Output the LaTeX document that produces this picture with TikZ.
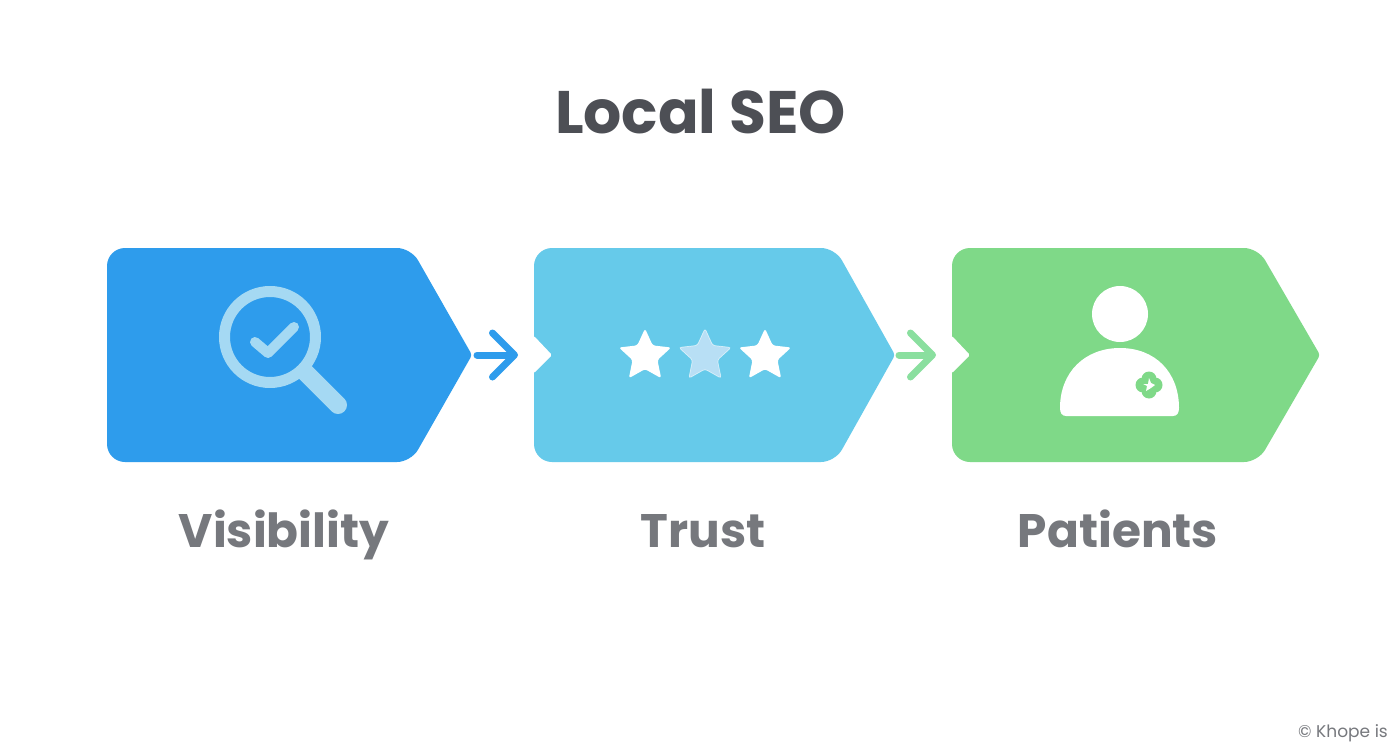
\documentclass[tikz,border=0pt]{standalone}
\usepackage{fontspec}
\setmainfont{Poppins}
\newfontfamily\popbold{Poppins}[UprightFont=* Bold]
\usetikzlibrary{arrows.meta,shapes.geometric}
\definecolor{cblue}{HTML}{2E9CEC}
\definecolor{csky}{HTML}{66CAEA}
\definecolor{cgreen}{HTML}{7FD988}
\definecolor{carrowg}{HTML}{8ADF9F}
\definecolor{cpale}{HTML}{A5D9F3}
\definecolor{cstar}{HTML}{B8DFF5}
\definecolor{ctitle}{HTML}{4D4F55}
\definecolor{clabel}{HTML}{76787D}
\tikzset{
  titletext/.style={inner sep=0pt,text=ctitle,font=\popbold\fontsize{60}{60}\selectfont},
  labeltext/.style={inner sep=0pt,text=clabel,font=\popbold\fontsize{47}{47}\selectfont},
  foot/.style={inner sep=0pt,text=clabel,font=\fontsize{17}{17}\selectfont},
  conn/.style={line width=7pt,line cap=round,-{Straight Barb[round,length=22pt,width=44pt,line width=7pt]}},
  starw/.style={star,star points=5,star point ratio=2.1,minimum size=55pt,inner sep=0pt,fill=white,rounded corners=2.5pt},
}
\begin{document}
\begin{tikzpicture}[x=1pt,y=-1pt]
\useasboundingbox (0,0) rectangle (1392,752);
\fill[white] (0,0) rectangle (1392,752);
% shapes
\fill[cblue,rounded corners=18pt] (107,355) -- (107,248) [rounded corners=14pt] -- (411,248) [rounded corners=3pt] -- (472,355) [rounded corners=14pt] -- (411,462) [rounded corners=18pt] -- (107,462) -- cycle;
\fill[csky,rounded corners=18pt] (534,355) -- (534,248) [rounded corners=14pt] -- (835,248) [rounded corners=3pt] -- (895,355) [rounded corners=14pt] -- (835,462) [rounded corners=18pt] -- (534,462) -- cycle;
\fill[white,rounded corners=1.5pt] (530,336) -- (534,336) -- (552,355) -- (534,373) -- (530,373) -- cycle;
\fill[cgreen,rounded corners=18pt] (952,355) -- (952,248) [rounded corners=14pt] -- (1258,248) [rounded corners=3pt] -- (1320,355) [rounded corners=14pt] -- (1258,462) [rounded corners=18pt] -- (952,462) -- cycle;
\fill[white,rounded corners=1.5pt] (948,336) -- (952,336) -- (970,355) -- (952,373) -- (948,373) -- cycle;
% connectors
\coordinate (tipA) at (477,355);
\coordinate (notchB) at (518,355);
\coordinate (tipB) at (899,355);
\coordinate (notchC) at (936,355);
\draw[conn,cblue] (tipA) -- (notchB);
\draw[conn,carrowg] (tipB) -- (notchC);
% magnifier
\coordinate (lensc) at (270,337);
\coordinate (handleA) at (304,371);
\coordinate (handleB) at (338,405);
\draw[cpale,line width=18pt,line cap=round] (handleA) -- (handleB);
\fill[cblue] (lensc) circle[radius=45];
\draw[cpale,line width=11pt] (lensc) circle[radius=45.5];
\draw[cpale,line width=10pt,line cap=round,line join=round] (255,342) -- (268,353) -- (294,327);
% stars
\node[starw] (s1) at (645,356) {};
\node[starw,fill=cstar,draw=white,draw opacity=0.6,line width=0.7pt] (s2) at (705,356) {};
\node[starw] (s3) at (765,356) {};
% person
\fill[white] (1120,314) circle[radius=28];
\fill[white] (1060,408) .. controls (1060,372) and (1085,348) .. (1120,348) .. controls (1155,348) and (1179,372) .. (1179,408) .. controls (1179,413) and (1177,416) .. (1173,416) -- (1066,416) .. controls (1062,416) and (1060,413) .. (1060,408) -- cycle;
\fill[cgreen] (1149,379) circle[radius=7.5] (1149,391) circle[radius=7.5] (1143,385) circle[radius=7.5] (1155,385) circle[radius=7.5] (1149,385) circle[radius=10];
\fill[white] (1149,378) -- (1151,383) -- (1155,385) -- (1151,388) -- (1146,391) -- (1147,386) -- (1143,384) -- (1148,384) -- cycle;
% text
\node[titletext,anchor=base] (title) at (700.5,133) {Local SEO};
\node[labeltext,anchor=base] (l1) at (284,547) {Visibility};
\node[labeltext,anchor=base] (l2) at (703,547) {Trust};
\node[labeltext,anchor=base] (l3) at (1118,547) {Patients};
\node[foot,anchor=base east] (f) at (1388,737) {© Khope is};
\end{tikzpicture}
\end{document}
